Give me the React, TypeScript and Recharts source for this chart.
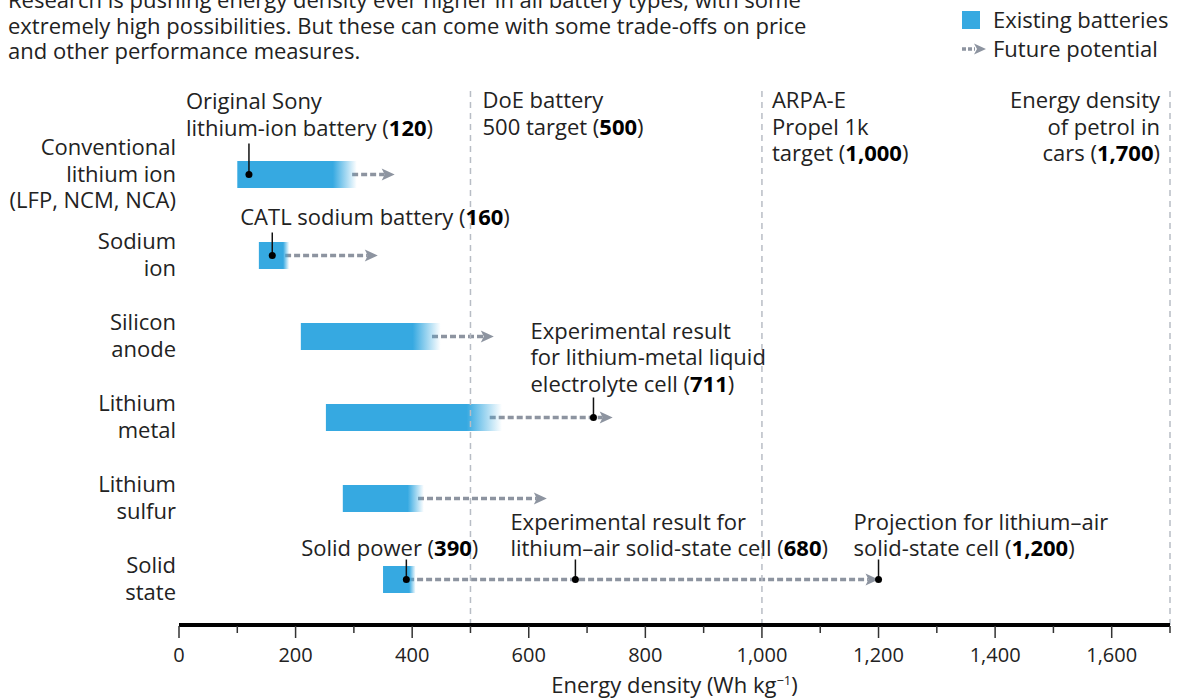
import React from 'react';
import { ComposedChart, Bar, XAxis, YAxis, ReferenceLine, ReferenceDot } from 'recharts';

// ---------- data ----------
const categories = [
  'Conventional lithium ion',
  'Sodium ion',
  'Silicon anode',
  'Lithium metal',
  'Lithium sulfur',
  'Solid state',
];
const categoryLines = [
  ['Conventional', 'lithium ion', '(LFP, NCM, NCA)'],
  ['Sodium', 'ion'],
  ['Silicon', 'anode'],
  ['Lithium', 'metal'],
  ['Lithium', 'sulfur'],
  ['Solid', 'state'],
];
const existingStart = [100, 137, 209, 252, 281, 350];
const existingEnd = [305, 189, 449, 554, 420, 406];
const futureStart = [297, 182, 434, 533, 410, 393];
const futureEnd = [370, 341, 540, 744, 631, 1200];

const xTicks = [0, 100, 200, 300, 400, 500, 600, 700, 800, 900, 1000, 1100, 1200, 1300, 1400, 1500, 1600, 1700];

const markerCategory = [0, 1, 3, 5, 5, 5];
const markerValues = [120, 160, 711, 390, 680, 1200];
const markerTexts = [
  ['Original Sony', 'lithium-ion battery (**120**)'],
  ['CATL sodium battery (**160**)'],
  ['Experimental result', 'for lithium-metal liquid', 'electrolyte cell (**711**)'],
  ['Solid power (**390**)'],
  ['Experimental result for', 'lithium–air solid-state cell (**680**)'],
  ['Projection for lithium–air', 'solid-state cell (**1,200**)'],
];

const targetValues = [500, 1000, 1700];
const targetTexts = [
  ['DoE battery', '500 target (**500**)'],
  ['ARPA-E', 'Propel 1k', 'target (**1,000**)'],
  ['Energy density', 'of petrol in', 'cars (**1,700**)'],
];

const titleLines = [
  'Research is pushing energy density ever higher in all battery types, with some',
  'extremely high possibilities. But these can come with some trade-offs on price',
  'and other performance measures.',
];

// ---------- layout / style (not data) ----------
const FONT = '"Open Sans", sans-serif';
const FS = 22;
const TICK_FS = 20;
const TEXT = '#222';
const BLUE = '#36a9e1';
const GRAY = '#8d94a0';
const REFGRAY = '#b8bdc5';
const LINE_H = 26.5;

// per-annotation offsets relative to dot: dx, anchor, leader length, gap above leader
const markerLayout = [
  { dx: -63, anchor: 'start', lead: 31, gap: 8 },
  { dx: -32, anchor: 'start', lead: 23, gap: 8 },
  { dx: -63, anchor: 'start', lead: 20, gap: 6 },
  { dx: 72, anchor: 'end', lead: 20, gap: 3.5 },
  { dx: -65, anchor: 'start', lead: 20, gap: 3.5 },
  { dx: -25, anchor: 'start', lead: 20, gap: 3.5 },
];
const targetLayout = [
  { dx: 12, anchor: 'start' },
  { dx: 10, anchor: 'start' },
  { dx: -10, anchor: 'end' },
];

const rows = categories.map((name, i) => ({
  name,
  existing: [existingStart[i], existingEnd[i]],
  future: [futureStart[i], futureEnd[i]],
}));

const rich = (line: string) =>
  line.split('**').map((seg, k) => (
    <tspan key={k} fontWeight={k % 2 === 1 ? 700 : 400} fill={k % 2 === 1 ? '#000' : TEXT}>
      {seg}
    </tspan>
  ));

const ExistingShape = (p: any) => {
  const { x, y, width, height, index } = p;
  const id = `fade-${index}`;
  return (
    <g>
      <defs>
        <linearGradient id={id} x1="0" y1="0" x2="1" y2="0">
          <stop offset="0" stopColor={BLUE} stopOpacity={1} />
          <stop offset="0.8" stopColor={BLUE} stopOpacity={1} />
          <stop offset="1" stopColor={BLUE} stopOpacity={0} />
        </linearGradient>
      </defs>
      <rect x={x} y={y} width={width} height={height} fill={`url(#${id})`} />
    </g>
  );
};

const ArrowShape = (p: any) => {
  const { x, y, width, height } = p;
  const cy = y + height / 2;
  const x2 = x + width;
  const head = 13;
  return (
    <g>
      <line x1={x} y1={cy} x2={x2 - head + 3} y2={cy} stroke={GRAY} strokeWidth={3.5} strokeDasharray="6 3" />
      <path d={`M${x2 - head},${cy - 6} L${x2},${cy} L${x2 - head},${cy + 6} L${x2 - head + 3},${cy} Z`} fill={GRAY} />
    </g>
  );
};

const makeMarkerShape = (i: number) => (p: any) => {
  const { cx, cy } = p;
  const L = markerLayout[i];
  const lines = markerTexts[i];
  const n = lines.length;
  const lastBase = cy - L.lead - L.gap;
  return (
    <g>
      <line x1={cx} y1={cy} x2={cx} y2={cy - L.lead} stroke="#111" strokeWidth={1.5} />
      <circle cx={cx} cy={cy} r={3.5} fill="#000" />
      <text fontFamily={FONT} fontSize={FS} fill={TEXT} textAnchor={L.anchor as any}>
        {lines.map((ln, k) => (
          <tspan key={k} x={cx + L.dx} y={lastBase - (n - 1 - k) * LINE_H}>
            {rich(ln)}
          </tspan>
        ))}
      </text>
    </g>
  );
};

const makeTargetLabel = (i: number) => (props: any) => {
  const vb = props.viewBox || {};
  const x = vb.x ?? 0;
  const top = vb.y ?? 0;
  const L = targetLayout[i];
  return (
    <text fontFamily={FONT} fontSize={FS} fill={TEXT} textAnchor={L.anchor as any}>
      {targetTexts[i].map((ln, k) => (
        <tspan key={k} x={x + L.dx} y={top + 18 + k * LINE_H}>
          {rich(ln)}
        </tspan>
      ))}
    </text>
  );
};

const YTick = (p: any) => {
  const { y, payload } = p;
  const x = 176;
  const idx = categories.indexOf(payload.value);
  const lines = categoryLines[idx] || [payload.value];
  const n = lines.length;
  return (
    <text fontFamily={FONT} fontSize={FS} fill={TEXT} textAnchor="end">
      {lines.map((ln, k) => (
        <tspan key={k} x={x} y={y + (k - (n - 1) / 2) * LINE_H + 7}>
          {ln}
        </tspan>
      ))}
    </text>
  );
};

const fmt = (v: number) => v.toLocaleString('en-US');

const XTick = (p: any) => {
  const { x, y, payload } = p;
  const v = payload.value;
  const major = v % 200 === 0;
  return (
    <g>
      <line x1={x} x2={x} y1={y + 1} y2={y + (major ? 13 : 8)} stroke="#333" strokeWidth={1.5} />
      {major && v < 1700 && (
        <text x={x} y={y + 37} textAnchor="middle" fontFamily={FONT} fontSize={TICK_FS} fill={TEXT}>
          {fmt(v)}
        </text>
      )}
    </g>
  );
};

const AxisTitle = (props: any) => {
  const vb = props.viewBox || {};
  const cx = (vb.x ?? 0) + (vb.width ?? 0) / 2;
  const y = (vb.y ?? 0) + 68;
  return (
    <text x={cx} y={y} textAnchor="middle" fontFamily={FONT} fontSize={FS} fill={TEXT}>
      Energy density (Wh kg
      <tspan dy={-8} fontSize={13}>−1</tspan>
      <tspan dy={8}>)</tspan>
    </text>
  );
};

export default function App() {
  return (
    <div style={{ position: 'absolute', left: 0, top: 0, width: 1177, height: 698, background: '#fff', overflow: 'hidden' }}>
      <div
        style={{
          position: 'absolute',
          left: 8,
          top: -13,
          fontFamily: FONT,
          fontSize: FS,
          lineHeight: '25.5px',
          color: TEXT,
          whiteSpace: 'nowrap',
        }}
      >
        {titleLines.map((t, i) => (
          <div key={i}>{t}</div>
        ))}
      </div>
      <div style={{ position: 'absolute', left: 958, top: 4 }}>
        <svg width={219} height={62}>
          <rect x={4} y={7} width={18} height={18} fill={BLUE} />
          <text x={35} y={24} fontFamily={FONT} fontSize={FS} fill={TEXT}>Existing batteries</text>
          <line x1={4} y1={45} x2={17} y2={45} stroke={GRAY} strokeWidth={3.5} strokeDasharray="4 2" />
          <path d="M16,39.5 L28,45 L16,50.5 L19,45 Z" fill={GRAY} />
          <text x={35} y={53} fontFamily={FONT} fontSize={FS} fill={TEXT}>Future potential</text>
        </svg>
      </div>
      <div style={{ position: 'absolute', left: 0, top: 0 }}>
        <ComposedChart
          width={1177}
          height={698}
          data={rows}
          layout="vertical"
          margin={{ top: 90, right: 7, bottom: 0, left: 8 }}
        >
          <XAxis
            type="number"
            domain={[0, 1700]}
            ticks={xTicks}
            interval={0}
            height={73}
            tickSize={0}
            tickMargin={0}
            tickLine={false}
            axisLine={{ stroke: '#000', strokeWidth: 4 }}
            tick={<XTick />}
            label={<AxisTitle />}
            allowDataOverflow
          />
          <YAxis
            yAxisId="main"
            type="category"
            dataKey="name"
            width={171}
            tickSize={0}
            tickMargin={3}
            tickLine={false}
            axisLine={false}
            tick={<YTick />}
            padding={{ top: 44, bottom: 5 }}
            interval={0}
          />
          <YAxis
            yAxisId="arrow"
            type="category"
            dataKey="name"
            orientation="right"
            width={0}
            hide
            padding={{ top: 44, bottom: 5 }}
          />
          {targetValues.map((v, i) => (
            <ReferenceLine
              key={`t${i}`}
              yAxisId="main"
              x={v}
              stroke={REFGRAY}
              strokeWidth={1.5}
              strokeDasharray="6 5"
              label={makeTargetLabel(i)}
            />
          ))}
          <Bar yAxisId="arrow" dataKey="future" barSize={27} shape={<ArrowShape />} isAnimationActive={false} />
          <Bar yAxisId="main" dataKey="existing" barSize={27} shape={<ExistingShape />} isAnimationActive={false} />
          {markerValues.map((v, i) => (
            <ReferenceDot
              key={`m${i}`}
              yAxisId="main"
              x={v}
              y={categories[markerCategory[i]]}
              r={3.5}
              shape={makeMarkerShape(i)}
            />
          ))}
        </ComposedChart>
      </div>
    </div>
  );
}
